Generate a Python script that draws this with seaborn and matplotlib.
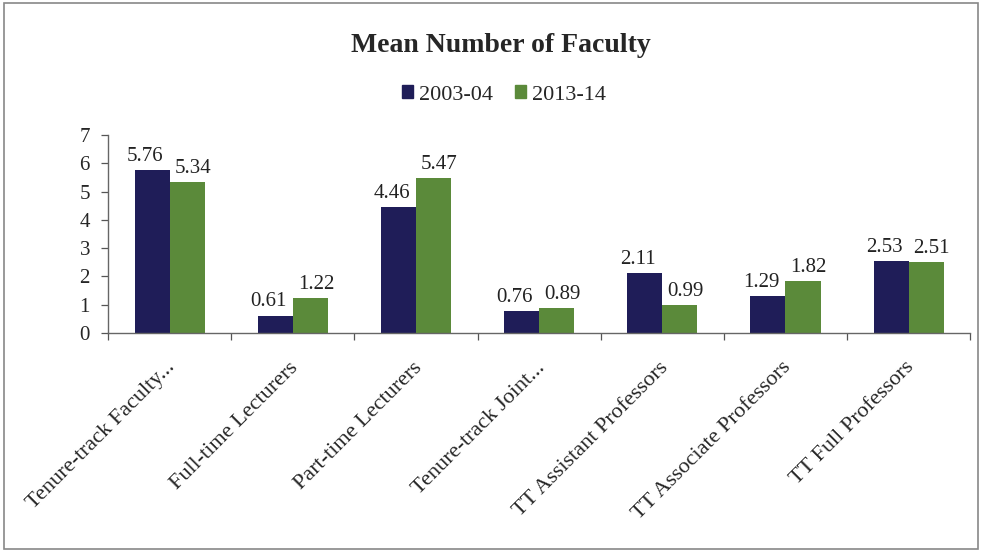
import matplotlib
matplotlib.use("Agg")
import matplotlib.pyplot as plt
import matplotlib.patches as mpatches
import matplotlib.transforms as mtransforms
import pandas as pd
import seaborn as sns

categories = ["Tenure-track Faculty...", "Full-time Lecturers", "Part-time Lecturers",
              "Tenure-track Joint...", "TT Assistant Professors", "TT Associate Professors",
              "TT Full Professors"]
years = ["2003-04", "2013-14"]
vals_2003 = [5.76, 0.61, 4.46, 0.76, 2.11, 1.29, 2.53]
vals_2013 = [5.34, 1.22, 5.47, 0.89, 0.99, 1.82, 2.51]
colors = ["#1f1d58", "#5b8a3a"]

df = pd.DataFrame({
    "category": categories * 2,
    "year": [years[0]] * len(categories) + [years[1]] * len(categories),
    "value": vals_2003 + vals_2013,
})

sns.set_style("white")
plt.rcParams["font.family"] = ["Liberation Serif", "DejaVu Serif"]

fig = plt.figure(figsize=(9.82, 5.52), dpi=100)
ax = fig.add_axes([0.110, 0.397, 0.878, 0.358])

sns.barplot(data=df, x="category", y="value", hue="year", palette=colors,
            width=0.57, saturation=1, linewidth=0, ax=ax, legend=False)

# data labels, nudged apart a little like the original (offsets in points)
shifts = [-5, 4]
for cont, dx in zip(ax.containers, shifts):
    texts = ax.bar_label(cont, fmt="%.2f", padding=3, fontsize=15, color="#222222")
    for t in texts:
        t.xyann = (dx, t.xyann[1])

ax.set_xlim(-0.5, len(categories) - 0.5)
ax.set_ylim(0, 7)
ax.set_yticks(range(8))
ax.set_xlabel("")
ax.set_ylabel("")
ax.tick_params(axis="y", labelsize=15, length=5, left=True, width=0.9, color="#555555", pad=8)
ax.set_xticks(range(len(categories)))
ax.set_xticklabels(categories, rotation=45, ha="right", rotation_mode="anchor", fontsize=16)
ax.tick_params(axis="x", length=0, pad=23)
offset = mtransforms.ScaledTranslation(3 / 100, 0, fig.dpi_scale_trans)
for lbl in ax.get_xticklabels():
    lbl.set_va("center")
    lbl.set_transform(lbl.get_transform() + offset)
ax.set_xticks([i - 0.5 for i in range(len(categories) + 1)], minor=True)
ax.tick_params(axis="x", which="minor", length=5, bottom=True, width=0.9, color="#555555")

sns.despine(ax=ax, top=True, right=True)
for side in ["left", "bottom"]:
    ax.spines[side].set_color("#666666")
    ax.spines[side].set_linewidth(1)

fig.text(0.510, 0.918, "Mean Number of Faculty", ha="center", va="center",
         fontsize=20, fontweight="bold")

handles = [mpatches.Patch(color=c, label=y) for c, y in zip(colors, years)]
fig.legend(handles=handles, loc="center", bbox_to_anchor=(0.513, 0.828), ncol=2,
           frameon=False, handlelength=0.5, handleheight=0.5,
           handletextpad=0.25, columnspacing=1.0, prop={"family": "Liberation Serif", "size": 16})

fig.patches.append(mpatches.Rectangle((0.004, 0.006), 0.992, 0.988, transform=fig.transFigure,
                                      fill=False, edgecolor="#888888", linewidth=1.2))

fig.savefig("out.png", dpi=100)
